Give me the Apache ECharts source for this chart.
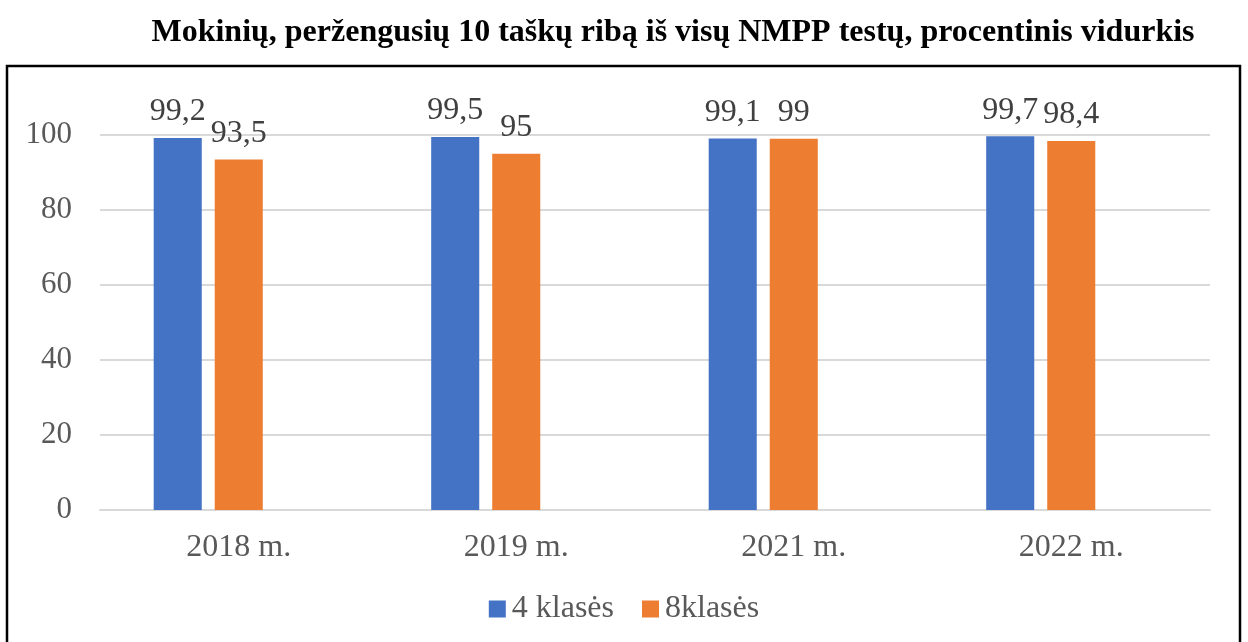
<!DOCTYPE html>
<html>
<head>
<meta charset="utf-8">
<script src="https://cdn.jsdelivr.net/npm/echarts@6/dist/echarts.min.js"></script>
<style>
    html, body { margin: 0; padding: 0; background: #fff; }
    #chart { width: 1248px; height: 642px; }
</style>
</head>
<body>
<div id="chart"></div>
<script>
var years = ['2018 m.', '2019 m.', '2021 m.', '2022 m.'];
var klase4 = [99.2, 99.5, 99.1, 99.7];
var klase8 = [93.5, 95, 99, 98.4];
var seriesNames = ['4 klasės', '8klasės'];
var yTicks = { min: 0, max: 100, interval: 20 };

var serif = '"Liberation Serif", "DejaVu Serif", serif';

// skaičius su kableliu
function commaFmt (params) {
    return String(params.value).replace('.', ',');
}

var chart = echarts.init(document.getElementById('chart'));
var option = {
    animation: false,
    title: {
        text: 'Mokinių, peržengusių 10 taškų ribą iš visų NMPP testų, procentinis vidurkis',
        left: 668,
        textAlign: 'center',
        top: 12,
        textStyle: {
            fontFamily: serif,
            fontSize: 32,
            fontWeight: 'bold',
            color: '#000'
        }
    },
    graphic: [
        {
            type: 'rect',
            shape: { x: 7, y: 66, width: 1233, height: 620 },
            style: { fill: 'none', stroke: '#000', lineWidth: 2.5 },
            silent: true
        }
    ],
    legend: {
        data: seriesNames,
        left: 'center',
        top: 588,
        itemWidth: 17,
        itemHeight: 17,
        itemGap: 28,
        icon: 'rect',
        textStyle: {
            fontFamily: serif,
            fontSize: 32,
            color: '#595959',
            padding: [0, 0, 0, 1]
        }
    },
    grid: {
        left: 100,
        right: 38,
        top: 135,
        bottom: 132
    },
    xAxis: {
        type: 'category',
        data: years,
        axisTick: { show: false },
        axisLine: { lineStyle: { color: '#d9d9d9', width: 2 } },
        axisLabel: {
            fontFamily: serif,
            fontSize: 32,
            color: '#595959',
            margin: 22
        }
    },
    yAxis: {
        type: 'value',
        min: yTicks.min,
        max: yTicks.max,
        interval: yTicks.interval,
        axisLine: { show: false },
        axisTick: { show: false },
        splitLine: { lineStyle: { color: '#d9d9d9', width: 2 } },
        axisLabel: {
            fontFamily: serif,
            fontSize: 31,
            color: '#595959',
            margin: 28
        }
    },
    series: [
        {
            name: seriesNames[0],
            type: 'bar',
            data: klase4,
            barGap: '27%',
            barCategoryGap: '38.7%',
            itemStyle: { color: '#4472C4' },
            label: {
                show: true,
                position: 'top',
                distance: 10,
                fontFamily: serif,
                fontSize: 32,
                color: '#404040',
                formatter: commaFmt
            }
        },
        {
            name: seriesNames[1],
            type: 'bar',
            data: klase8,
            itemStyle: { color: '#ED7D31' },
            label: {
                show: true,
                position: 'top',
                distance: 10,
                fontFamily: serif,
                fontSize: 32,
                color: '#404040',
                formatter: commaFmt
            }
        },
        {
            // tuščia vieta trečiam stulpeliui, kaip Excel'yje
            name: 'tuscias',
            type: 'bar',
            data: [null, null, null, null],
            itemStyle: { color: 'transparent' }
        }
    ]
};

chart.setOption(option);
</script>
</body>
</html>
